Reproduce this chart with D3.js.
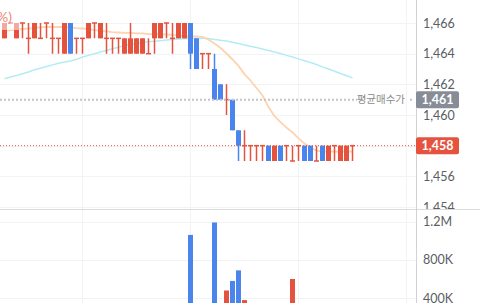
<!DOCTYPE html>
<html>
<head>
<meta charset="utf-8">
<script src="https://cdn.jsdelivr.net/npm/d3@7"></script>
<style>
  html, body { margin: 0; padding: 0; background: #fff; overflow: hidden; }
  text { font-family: Lato, 'Noto Sans CJK KR', sans-serif; }
</style>
</head>
<body>
<div id="chart"></div>
<script>
// candles, one per slot (index = position)
const opens  = [1465,1466,1465,1466,1465,1465,1465,1466,1465,1465,1464,1466,1465,1465,1465,1466,1465,1465,1465,1465,
                1464,1464,1464,1464,1464,1465,1465,1466,1465,1465,1465,1466,1465,1464,1464,1463,1462,1461,1461,1459,
                1458,1458,1458,1458,1458,1457,1458,1458,1457,1458,1458,1458,1457,1458,1457,1458,1457,1457,1458];
const highs  = [1466,1466,1466,1466,1466,1466,1466,1466,1466,1465,1466,1466,1465,1465,1466,1466,1466,1466,1465,1465,
                1465,1466,1465,1465,1465,1466,1466,1466,1466,1466,1466,1466,1465,1464,1464,1464,1462,1462,1461,1459,
                1459,1458,1458,1458,1458,1458,1458,1458,1458,1458,1458,1458,1458,1458,1458,1458,1458,1458,1458];
const lows   = [1465,1466,1465,1465,1464,1465,1465,1465,1464,1464,1464,1464,1464,1464,1465,1465,1465,1464,1464,1464,
                1464,1464,1464,1464,1464,1464,1465,1465,1464,1465,1465,1463,1463,1463,1463,1461,1461,1460,1459,1457,
                1457,1457,1457,1457,1457,1457,1457,1457,1457,1457,1457,1457,1457,1457,1457,1457,1457,1457,1457];
const closes = [1466,1466,1466,1466,1465,1466,1465,1466,1465,1465,1466,1464,1465,1465,1466,1466,1466,1465,1465,1465,
                1465,1465,1465,1465,1464,1466,1466,1466,1465,1466,1466,1464,1463,1464,1464,1461,1461,1461,1459,1458,
                1458,1458,1458,1458,1457,1458,1457,1458,1457,1458,1457,1457,1457,1457,1458,1458,1458,1458,1458];
const volumes = [180000,60000,150000,90000,120000,140000,80000,110000,130000,70000,260000,240000,90000,80000,150000,
                 70000,140000,100000,90000,80000,190000,200000,170000,160000,90000,210000,150000,80000,120000,160000,
                 170000,1060000,320000,150000,130000,1190000,300000,480000,580000,690000,380000,120000,100000,90000,
                 210000,180000,200000,110000,600000,90000,230000,190000,80000,170000,210000,90000,180000,160000,110000];
const maFast = [1465.48,1465.54,1465.58,1465.61,1465.64,1465.67,1465.71,1465.74,1465.74,1465.74,1465.74,1465.71,1465.67,
                1465.64,1465.61,1465.54,1465.48,1465.45,1465.41,1465.38,1465.35,1465.35,1465.32,1465.32,1465.28,1465.28,
                1465.28,1465.25,1465.22,1465.18,1465.15,1465.15,1465.12,1465.09,1464.92,1464.66,1464.37,1464.01,1463.62,
                1463.20,1462.67,1462.25,1461.76,1461.27,1460.52,1459.93,1459.54,1459.18,1458.86,1458.47,1458.14,1457.88,
                1457.68,1457.62,1457.62,1457.62,1457.62,1457.62,1457.62];
const maSlow = [1462.37,1462.48,1462.58,1462.69,1462.80,1462.95,1463.05,1463.16,1463.27,1463.37,1463.46,1463.52,1463.63,
                1463.78,1463.89,1464.00,1464.11,1464.21,1464.32,1464.42,1464.53,1464.61,1464.67,1464.73,1464.77,1464.81,
                1464.85,1464.89,1464.92,1464.95,1464.98,1465.00,1465.00,1465.00,1464.99,1464.93,1464.87,1464.83,1464.74,
                1464.66,1464.57,1464.49,1464.40,1464.30,1464.21,1464.11,1464.01,1463.89,1463.78,1463.66,1463.54,1463.42,
                1463.29,1463.14,1463.00,1462.85,1462.71,1462.56,1462.42];

const priceTicks = [1454, 1456, 1458, 1460, 1462, 1464, 1466];
const volumeTicks = [400000, 800000, 1200000];
const timeTicks = [13, 31, 49, 67];
const avgPrice = 1461;
const avgTitle = '평균매수가';
const lastPrice = closes[closes.length - 1];

const WIDTH = 480;
const HEIGHT = 303;
const AXIS_X = 416;
const PANEL_SPLIT = 209.5;
const BODY = 5;
const UP = '#e5533f';
const DOWN = '#4a85ee';
const GRID = '#f2f3f5';

const svg = d3.select('#chart')
  .append('svg')
  .attr('width', WIDTH)
  .attr('height', HEIGHT);

const x = d3.scaleLinear().domain([0, 68]).range([4.5, 412.5]);
const y = d3.scaleLinear().domain([1454, 1466]).range([207, 23]);
const yv = d3.scaleLinear().domain([0, 1200000]).range([336.5, 221.5]);

const candles = closes.map((c, i) => ({
  i, o: opens[i], h: highs[i], l: lows[i], c, v: volumes[i]
}));
const color = (d) => d.c >= d.o ? UP : DOWN;

// grid
const grid = svg.append('g').attr('stroke', GRID).attr('stroke-width', 1);
grid.selectAll('.gx')
  .data(timeTicks)
  .enter()
    .append('line')
    .attr('x1', (d) => x(d)).attr('x2', (d) => x(d))
    .attr('y1', 0).attr('y2', HEIGHT);
grid.selectAll('.gy')
  .data(priceTicks)
  .enter()
    .append('line')
    .attr('x1', 0).attr('x2', AXIS_X)
    .attr('y1', (d) => Math.round(y(d)) + 0.5).attr('y2', (d) => Math.round(y(d)) + 0.5);
grid.selectAll('.gv')
  .data(volumeTicks)
  .enter()
    .append('line')
    .attr('x1', 0).attr('x2', AXIS_X)
    .attr('y1', (d) => Math.round(yv(d)) + 0.5).attr('y2', (d) => Math.round(yv(d)) + 0.5);

const defs = svg.append('defs');
defs.append('clipPath').attr('id', 'price-clip')
  .append('rect').attr('width', AXIS_X).attr('height', PANEL_SPLIT);
defs.append('clipPath').attr('id', 'price-axis-clip')
  .append('rect').attr('width', WIDTH).attr('height', PANEL_SPLIT - 0.5);

const pricePanel = svg.append('g').attr('clip-path', 'url(#price-clip)');

// moving averages
const line = d3.line().x((d, i) => x(i)).y((d) => y(d));
pricePanel.append('path')
  .attr('fill', 'none').attr('stroke', '#b4ecf3').attr('stroke-width', 1.5)
  .attr('d', line(maSlow));
pricePanel.append('path')
  .attr('fill', 'none').attr('stroke', '#fdd3b0').attr('stroke-width', 1.8)
  .attr('d', line(maFast));

// average buy price line
svg.append('line')
  .attr('x1', 0).attr('x2', 357)
  .attr('y1', y(avgPrice)).attr('y2', y(avgPrice))
  .attr('stroke', '#c4c4c4').attr('stroke-width', 2)
  .attr('stroke-dasharray', '2,2');
svg.append('line')
  .attr('x1', 410).attr('x2', 414)
  .attr('y1', y(avgPrice)).attr('y2', y(avgPrice))
  .attr('stroke', '#c4c4c4').attr('stroke-width', 2)
  .attr('stroke-dasharray', '2,2');
svg.append('text')
  .attr('x', 405).attr('y', y(avgPrice) + 3.5)
  .attr('text-anchor', 'end')
  .attr('font-size', 10.5)
  .attr('fill', '#8c8c8c')
  .text(avgTitle);

// candles
const candle = pricePanel.append('g')
  .selectAll('g')
  .data(candles)
  .enter()
    .append('g')
    .attr('fill', color)
    .attr('stroke', color);

candle.append('line')
  .attr('x1', (d) => x(d.i)).attr('x2', (d) => x(d.i))
  .attr('y1', (d) => y(d.h)).attr('y2', (d) => y(d.l))
  .attr('stroke-width', 1.5);

candle.append('rect')
  .attr('stroke', 'none')
  .attr('x', (d) => x(d.i) - BODY / 2)
  .attr('width', BODY)
  .attr('y', (d) => d.o === d.c ? y(d.o) - 0.75 : y(Math.max(d.o, d.c)))
  .attr('height', (d) => d.o === d.c ? 1.5 : Math.abs(y(d.o) - y(d.c)));

// current price line
svg.append('line')
  .attr('x1', 0).attr('x2', AXIS_X)
  .attr('y1', y(lastPrice)).attr('y2', y(lastPrice))
  .attr('stroke', UP).attr('stroke-width', 1)
  .attr('stroke-dasharray', '1,2');

// faded header text, cut at the left edge
svg.append('rect')
  .attr('x', 0).attr('y', 6).attr('width', 20).attr('height', 24)
  .attr('fill', '#fff').attr('fill-opacity', 0.5);
svg.append('text')
  .attr('x', -3).attr('y', 22)
  .attr('font-size', 14)
  .attr('fill', '#ee6b5b')
  .attr('fill-opacity', 0.85)
  .text('%)');

// volume bars
svg.append('g')
  .selectAll('rect')
  .data(candles)
  .enter()
    .append('rect')
    .attr('fill', color)
    .attr('x', (d) => x(d.i) - BODY / 2)
    .attr('width', BODY)
    .attr('y', (d) => yv(d.v))
    .attr('height', (d) => Math.max(0, yv(0) - yv(d.v)));

// panel frame
svg.append('line')
  .attr('x1', 0).attr('x2', WIDTH)
  .attr('y1', PANEL_SPLIT).attr('y2', PANEL_SPLIT)
  .attr('stroke', '#dadada');
svg.append('line')
  .attr('x1', AXIS_X + 0.5).attr('x2', AXIS_X + 0.5)
  .attr('y1', 0).attr('y2', HEIGHT)
  .attr('stroke', '#d2d2d2');

// axes
const priceAxis = d3.axisRight(y)
  .tickValues(priceTicks)
  .tickSize(0)
  .tickPadding(7)
  .tickFormat(d3.format(','));
svg.append('g')
  .attr('clip-path', 'url(#price-axis-clip)')
  .append('g')
  .attr('transform', `translate(${AXIS_X},0)`)
  .call(priceAxis)
  .call((g) => g.select('.domain').remove())
  .call((g) => g.selectAll('text')
    .attr('font-family', "Lato, 'Noto Sans CJK KR', sans-serif")
    .attr('font-size', 12.5)
    .attr('fill', '#5a5d63'));

const volumeAxis = d3.axisRight(yv)
  .tickValues(volumeTicks)
  .tickSize(0)
  .tickPadding(7)
  .tickFormat((d) => d >= 1e6 ? `${d / 1e6}M` : `${d / 1e3}K`);
svg.append('g')
  .attr('transform', `translate(${AXIS_X},0)`)
  .call(volumeAxis)
  .call((g) => g.select('.domain').remove())
  .call((g) => g.selectAll('text')
    .attr('font-family', "Lato, 'Noto Sans CJK KR', sans-serif")
    .attr('font-size', 12.5)
    .attr('fill', '#5a5d63'));

// price tags
const tags = [
  { value: avgPrice, fill: '#878c96' },
  { value: lastPrice, fill: UP }
];
const tag = svg.append('g')
  .selectAll('g')
  .data(tags)
  .enter()
    .append('g')
    .attr('transform', (d) => `translate(${AXIS_X},${y(d.value)})`);
tag.append('rect')
  .attr('x', 0).attr('y', -8.5)
  .attr('width', 43).attr('height', 17)
  .attr('rx', 2)
  .attr('fill', (d) => d.fill);
tag.append('text')
  .attr('x', 21.5).attr('y', 4.5)
  .attr('text-anchor', 'middle')
  .attr('font-size', 12.5)
  .attr('font-weight', 'bold')
  .attr('fill', '#fff')
  .text((d) => d3.format(',')(d.value));
</script>
</body>
</html>
